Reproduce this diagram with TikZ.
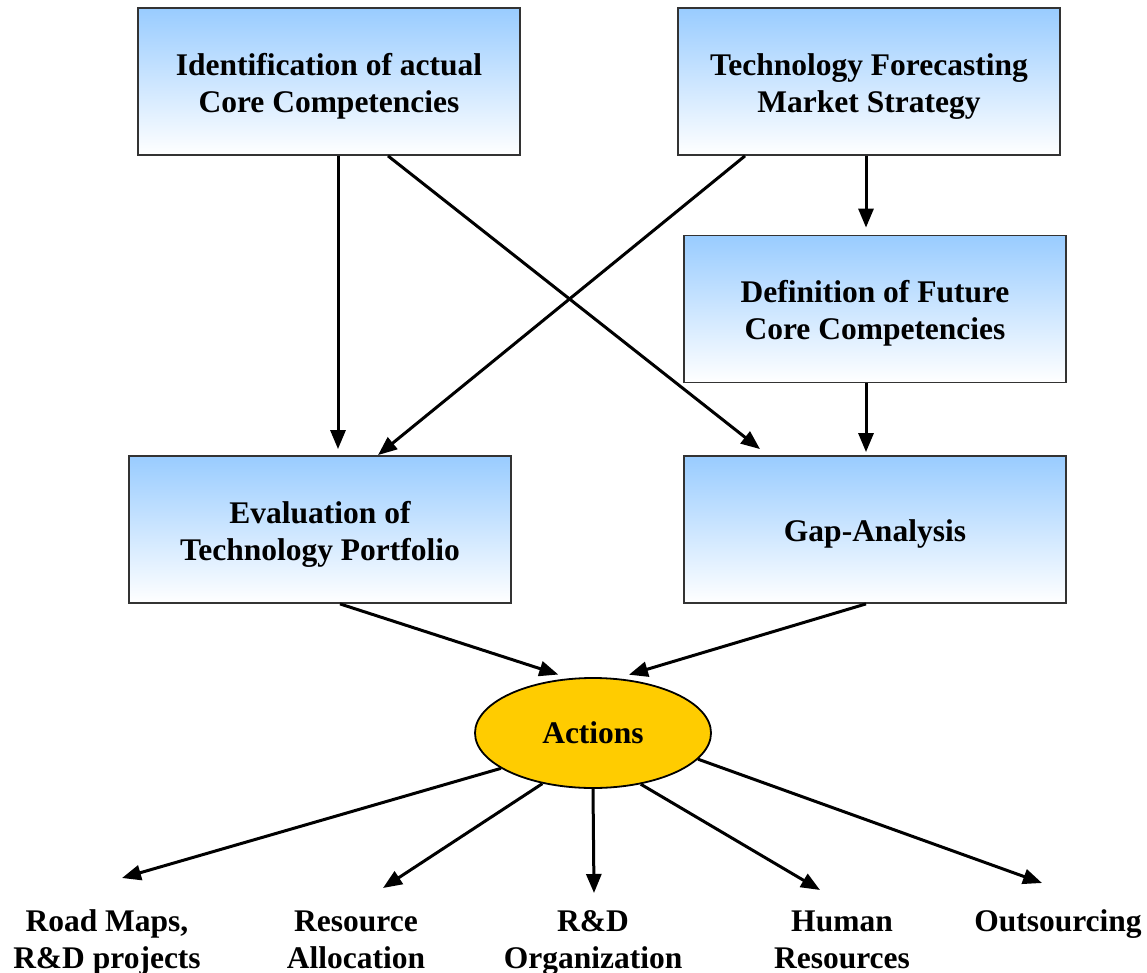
\documentclass[tikz,border=0pt]{standalone}
\usepackage{fontspec}
\setmainfont{Liberation Serif}
\usetikzlibrary{arrows.meta,shapes.geometric}
\definecolor{boxblue}{HTML}{99CCFF}
\definecolor{actyellow}{HTML}{FFCC00}
\newcommand\topstrut{\rule{0pt}{31pt}}
\newcommand\labtop{\rule{0pt}{24pt}}
\newcommand\labbot{\rule[-8pt]{0pt}{8pt}}
\tikzset{
  gbox/.style={draw=black!80, line width=1.8pt, minimum width=382pt, minimum height=147pt, inner sep=0pt,
    top color=boxblue, bottom color=white, align=center, font=\fontsize{31.5}{37}\selectfont\bfseries},
  lbl/.style={align=center, font=\fontsize{31.5}{37}\selectfont\bfseries, inner sep=0pt},
  arr/.style={line width=3pt, -{Triangle[length=19pt,width=15pt]}},
}
\begin{document}
\begin{tikzpicture}[x=1pt,y=-1pt]
\useasboundingbox (0,0) rectangle (1147,973);
\node[gbox] (b1) at (329,81.5) {\topstrut Identification of actual\\Core Competencies};
\node[gbox] (b2) at (869,81.5) {\topstrut Technology Forecasting\\Market Strategy};
\node[gbox] (b3) at (875,309) {\topstrut Definition of Future\\Core Competencies};
\node[gbox] (b4) at (320,529.5) {\topstrut Evaluation of\\Technology Portfolio};
\node[gbox] (b5) at (875,529.5) {\topstrut Gap-Analysis};
\node[ellipse, draw=black, line width=1.8pt, fill=actyellow, minimum width=236pt, minimum height=110pt, inner sep=0pt,
  font=\fontsize{31.5}{37}\selectfont\bfseries] (act) at (593,733) {Actions};

\node[lbl] (l1) at (107,941.5) {\labtop Road Maps,\\R\&D projects\labbot};
\node[lbl] (l2) at (356,941.5) {\labtop Resource\\Allocation\labbot};
\node[lbl] (l3) at (593,941.5) {\labtop R\&D\\Organization\labbot};
\node[lbl] (l4) at (842,941.5) {\labtop Human\\Resources\labbot};
\node[lbl] (l5) at (1058,923) {\labtop Outsourcing\labbot};

\coordinate (t1) at (122,878);
\coordinate (t2) at (383,888);
\coordinate (t3) at (594,893);
\coordinate (t4) at (820,890);
\coordinate (t5) at (1042,883);

\draw[arr] ([xshift=9pt]b1.south) -- ([xshift=18pt,yshift=6pt]b4.north);
\draw[arr] ([xshift=59pt]b1.south) -- ([xshift=-115pt,yshift=6pt]b5.north);
\draw[arr] ([xshift=-124pt]b2.south) -- ([xshift=58pt]b4.north);
\draw[arr] ([xshift=-3pt]b2.south) -- ([xshift=-9pt,yshift=7pt]b3.north);
\draw[arr] ([xshift=-9pt]b3.south) -- ([xshift=-9pt,yshift=3pt]b5.north);
\draw[arr] ([xshift=20pt]b4.south) -- ([yshift=5pt]act.123);
\draw[arr] ([xshift=-9pt]b5.south) -- ([yshift=5pt]act.56);

\draw[arr] (act.201.7) -- (t1);
\draw[arr] (act.225.6) -- (t2);
\draw[arr] (act.270) -- (t3);
\draw[arr] (act.313.8) -- (t4);
\draw[arr] (act.346.8) -- (t5);
\end{tikzpicture}
\end{document}
